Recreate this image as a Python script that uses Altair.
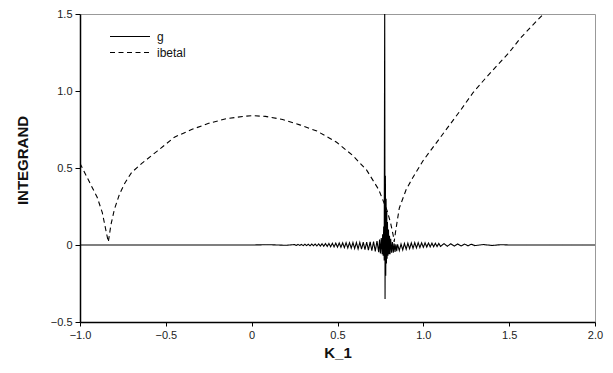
import altair as alt
import pandas as pd

# |beta| curve (dashed)
beta_x = [-1.00, -0.95, -0.90, -0.87, -0.85, -0.835, -0.82, -0.80, -0.77, -0.74, -0.70,
          -0.64, -0.55, -0.45, -0.35, -0.25, -0.15, -0.05, 0.00, 0.08, 0.18, 0.28, 0.38,
          0.495, 0.59, 0.67, 0.74, 0.79, 0.81, 0.825, 0.83, 0.84, 0.86, 0.90, 0.94, 1.00,
          1.04, 1.10, 1.16, 1.22, 1.29, 1.36, 1.43, 1.50, 1.563, 1.63, 1.70]
beta_y = [0.53, 0.42, 0.31, 0.21, 0.10, 0.02, 0.13, 0.23, 0.33, 0.40, 0.47,
          0.53, 0.61, 0.70, 0.75, 0.79, 0.82, 0.835, 0.84, 0.835, 0.815, 0.78, 0.74,
          0.667, 0.58, 0.486, 0.36, 0.22, 0.14, 0.06, 0.02, 0.10, 0.24, 0.36, 0.44, 0.55,
          0.61, 0.70, 0.79, 0.88, 0.99, 1.08, 1.166, 1.25, 1.34, 1.42, 1.50]

# g curve (solid), oscillating around zero with a spike near K_1 = 0.775
g_x = [-1.00, -0.50, 0.00, 0.10, 0.20, 0.25, 0.26, 0.27, 0.28, 0.29, 0.30, 0.31, 0.32,
       0.33, 0.34, 0.35, 0.36, 0.37, 0.38, 0.39, 0.40, 0.41, 0.42, 0.43, 0.44, 0.45,
       0.46, 0.47, 0.48, 0.49, 0.50, 0.51, 0.52, 0.53, 0.54, 0.55, 0.56, 0.57, 0.58,
       0.59, 0.60, 0.61, 0.62, 0.63, 0.64, 0.65, 0.66, 0.67, 0.68, 0.69, 0.70, 0.71,
       0.72, 0.73, 0.74, 0.745, 0.75, 0.755, 0.76, 0.763, 0.766, 0.769, 0.772, 0.775,
       0.777, 0.779, 0.781, 0.783, 0.785, 0.787, 0.789, 0.791, 0.794, 0.797, 0.800,
       0.803, 0.806, 0.810, 0.815, 0.820, 0.825, 0.830, 0.835, 0.840, 0.845, 0.850,
       0.86, 0.87, 0.88, 0.89, 0.90, 0.91, 0.92, 0.93, 0.94, 0.95, 0.96, 0.97, 0.98,
       0.99, 1.00, 1.01, 1.02, 1.03, 1.04, 1.05, 1.06, 1.07, 1.08, 1.09, 1.10, 1.12,
       1.14, 1.16, 1.18, 1.20, 1.22, 1.24, 1.26, 1.28, 1.30, 1.35, 1.40, 1.45, 1.50, 2.00]
g_y = [0.0, 0.0, 0.0, 0.002, -0.002, 0.003, -0.003, 0.004, -0.003, 0.004, -0.004, 0.005, -0.004,
       0.005, -0.005, 0.006, -0.005, 0.006, -0.006, 0.007, -0.007, 0.008, -0.008, 0.009, -0.009, 0.010,
       -0.011, 0.011, -0.012, 0.012, -0.014, 0.013, -0.015, 0.014, -0.017, 0.015, -0.019, 0.015, -0.021,
       0.016, -0.023, 0.016, -0.025, 0.017, -0.027, 0.018, -0.030, 0.019, -0.033, 0.020, -0.037, 0.022,
       -0.041, 0.026, -0.047, 0.035, -0.055, 0.045, -0.060, 0.070, -0.070, 0.120, -0.100, 1.60,
       -0.35, 0.45, -0.20, 0.30, -0.12, 0.22, -0.09, 0.15, -0.07, 0.10, -0.06,
       0.06, -0.06, 0.04, -0.05, 0.02, -0.05, 0.01, -0.045, 0.005, -0.04, 0.004,
       -0.036, 0.006, -0.032, 0.010, -0.028, 0.012, -0.024, 0.014, -0.022, 0.015, -0.019, 0.015, -0.017,
       0.014, -0.015, 0.014, -0.013, 0.013, -0.012, 0.012, -0.011, 0.011, -0.010, 0.010, -0.009, 0.009,
       -0.008, 0.008, -0.007, 0.007, -0.006, 0.006, -0.005, 0.005, -0.004, 0.003, -0.003, 0.002, 0.0, 0.0]

x_ticks = [-1.0, -0.5, 0.0, 0.5, 1.0, 1.5, 2.0]
y_ticks = [-0.5, 0.0, 0.5, 1.0, 1.5]
series_names = ["g", "ibetal"]

df = pd.concat([
    pd.DataFrame({"k": g_x, "v": g_y, "series": "g", "order": range(len(g_x))}),
    pd.DataFrame({"k": beta_x, "v": beta_y, "series": "ibetal", "order": range(len(beta_x))}),
])

label_expr = "datum.value == 0 ? '0' : format(datum.value, '.1f')"

chart = alt.Chart(df).mark_line(clip=True, strokeWidth=1.1, color="black").encode(
    x=alt.X("k:Q", title="K_1",
            scale=alt.Scale(domain=[-1, 2], nice=False, zero=False),
            axis=alt.Axis(values=x_ticks, labelExpr=label_expr, grid=False, labelFlush=False,
                          domainColor="black", domainWidth=1.5, tickColor="black",
                          tickSize=4, labelPadding=3, labelFont="Liberation Sans",
                          labelFontSize=11, labelColor="#222",
                          titleFont="Liberation Sans", titleFontSize=15,
                          titleFontWeight="bold", titleColor="#111", titlePadding=5)),
    y=alt.Y("v:Q", title="INTEGRAND",
            scale=alt.Scale(domain=[-0.5, 1.5], nice=False, zero=False),
            axis=alt.Axis(values=y_ticks, labelExpr=label_expr, grid=False, labelFlush=False,
                          domainColor="black", domainWidth=1.5, tickColor="black",
                          tickSize=5, labelPadding=3, labelFont="Liberation Sans",
                          labelFontSize=11, labelColor="#222",
                          titleFont="Liberation Sans", titleFontSize=15,
                          titleFontWeight="bold", titleColor="#111",
                          titleX=-50, titleY=146)),
    strokeDash=alt.StrokeDash("series:N", title=None,
                              scale=alt.Scale(domain=series_names, range=[[1, 0], [5, 3.5]]),
                              legend=alt.Legend(orient="none", legendX=29, legendY=15,
                                                symbolType="stroke", symbolSize=1600,
                                                clipHeight=15,
                                                symbolStrokeColor="black", symbolStrokeWidth=1.2,
                                                labelFont="Liberation Sans", labelFontSize=12,
                                                labelColor="#111", labelOffset=6,
                                                rowPadding=1)),
    detail="series:N",
    order="order:Q",
).properties(
    width=515, height=308,
    autosize=alt.AutoSizeParams(type="none"),
    padding={"left": 72, "top": 6, "right": 10, "bottom": 40},
).configure_view(stroke="#999", strokeWidth=1)

chart.save("out.html", embed_options={"renderer": "svg", "actions": False})
